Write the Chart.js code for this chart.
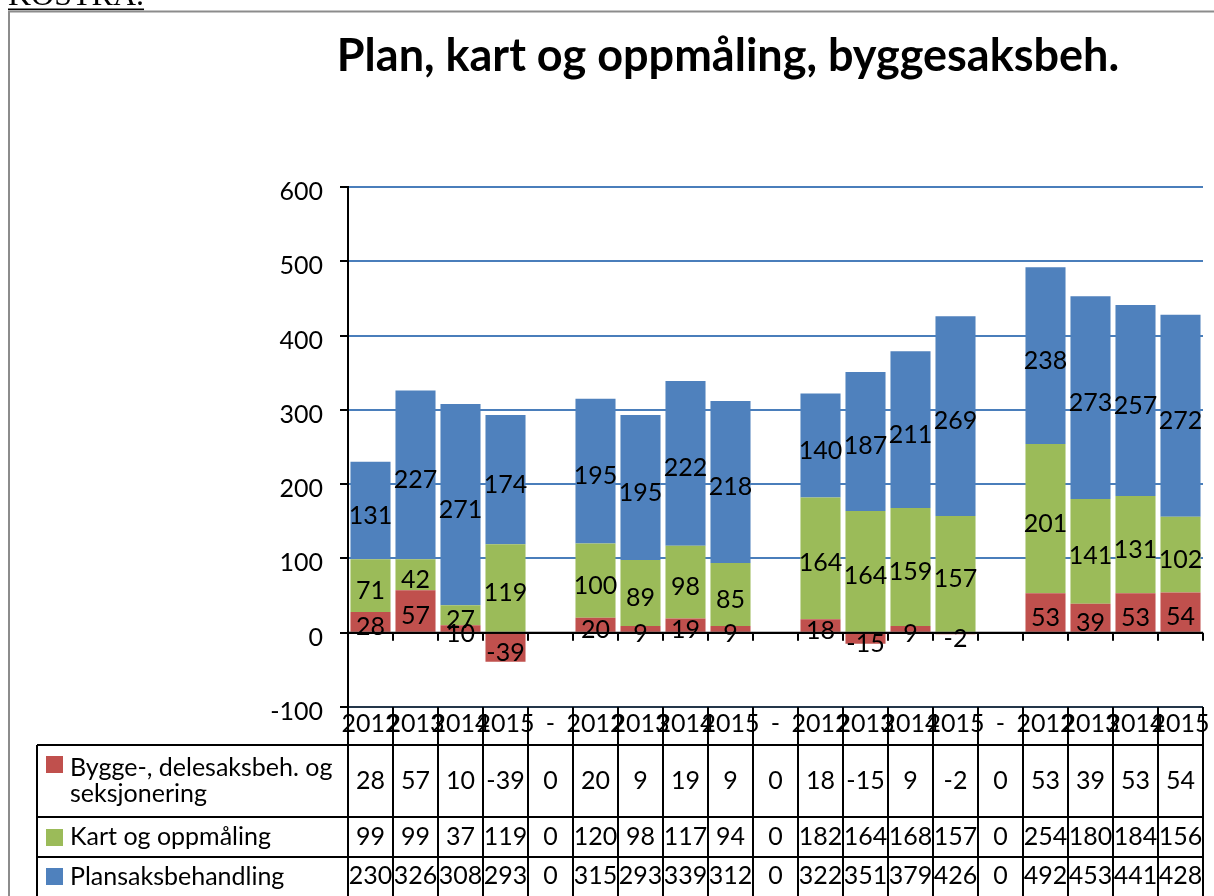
<!DOCTYPE html>
<html lang="no">
<head>
<meta charset="utf-8">
<title>Plan, kart og oppmåling, byggesaksbeh.</title>
<script src="https://cdn.jsdelivr.net/npm/chart.js@4.4.1/dist/chart.umd.min.js"></script>
<style>
  html, body { margin: 0; padding: 0; background: #ffffff; overflow: hidden; }
  #wrap { position: relative; width: 1214px; height: 896px; }
  canvas { display: block; }
</style>
</head>
<body>
<div id="wrap"><canvas id="chart" width="1214" height="896"></canvas></div>
<script>
// Categories along the x axis (four years per group, "-" separates the groups)
const categories = ['2012', '2013', '2014', '2015', '-',
                    '2012', '2013', '2014', '2015', '-',
                    '2012', '2013', '2014', '2015', '-',
                    '2012', '2013', '2014', '2015'];

// Segment values shown inside the stacked bars
const byggeValues = [28, 57, 10, -39, 0, 20, 9, 19, 9, 0, 18, -15, 9, -2, 0, 53, 39, 53, 54];
const kartValues  = [71, 42, 27, 119, 0, 100, 89, 98, 85, 0, 164, 164, 159, 157, 0, 201, 141, 131, 102];
const planValues  = [131, 227, 271, 174, 0, 195, 195, 222, 218, 0, 140, 187, 211, 269, 0, 238, 273, 257, 272];

// Series names (legend column of the data table, split into lines)
const byggeName = ['Bygge-, delesaksbeh. og', 'seksjonering'];
const kartName  = ['Kart og oppmåling'];
const planName  = ['Plansaksbehandling'];

// Value axis
const yMin = -100;
const yMax = 600;
const yStep = 100;

const chartTitle = 'Plan, kart og oppmåling, byggesaksbeh.';
const headingText = 'KOSTRA.';

// The data table lists the level each series reaches (top of its segment)
const byggeLevel = byggeValues.slice();
const kartLevel = kartValues.map((v, i) => v + Math.max(byggeValues[i], 0));
const planLevel = planValues.map((v, i) => v + kartLevel[i]);

const FONT = 'Lato, "Open Sans", "Liberation Sans", sans-serif';
const TEXT_SIZE = 25;
const RED = '#C0504D', GREEN = '#9BBB59', BLUE = '#4F81BD';

// Layout of the data table rows below the plot (pixels)
const TABLE_LEFT = 37;
const ROW_LINES = [745, 817, 857];
const ROW_CENTERS = [781, 837, 876];
const SWATCH_TOPS = [756, 829, 868];
const NAME_BASELINES = [[776, 802], [845], [885]];

const sheetPlugin = {
  id: 'sheet',
  afterDatasetsDraw(chart) {
    const { ctx, chartArea: a, scales: { x, y } } = chart;
    const n = categories.length;
    const w = (a.right - a.left) / n;
    const y0 = y.getPixelForValue(0);
    ctx.save();
    // horizontal axis at zero with tick marks between categories
    ctx.strokeStyle = '#000';
    ctx.lineWidth = 2;
    ctx.beginPath();
    ctx.moveTo(a.left, y0);
    ctx.lineTo(a.right, y0);
    for (let k = 1; k <= n; k++) {
      const px = Math.round(x.getPixelForValue(k - 1) + w / 2);
      ctx.moveTo(px, y0);
      ctx.lineTo(px, y0 + 8);
    }
    ctx.stroke();

    // value labels centred on each segment
    ctx.font = TEXT_SIZE + 'px ' + FONT;
    ctx.fillStyle = '#000';
    ctx.textAlign = 'center';
    ctx.textBaseline = 'middle';
    chart.data.datasets.forEach((ds, di) => {
      const meta = chart.getDatasetMeta(di);
      meta.data.forEach((bar, i) => {
        if (categories[i] === '-') return;
        const p = bar.getProps(['x', 'y', 'base'], true);
        ctx.fillText(String(ds.data[i]), p.x, (p.y + p.base) / 2 + 5);
      });
    });
    ctx.restore();
  },
  afterDraw(chart) {
    const { ctx, chartArea: a, scales: { x } } = chart;
    const n = categories.length;
    const w = (a.right - a.left) / n;
    const H = chart.height;
    ctx.save();

    // outer frame
    ctx.strokeStyle = '#8c8c8c';
    ctx.lineWidth = 2;
    ctx.beginPath();
    ctx.moveTo(9, H);
    ctx.lineTo(9, 11.5);
    ctx.lineTo(chart.width, 11.5);
    ctx.stroke();

    // heading above the frame
    ctx.fillStyle = '#000';
    ctx.font = '32px "Liberation Serif", "DejaVu Serif", serif';
    ctx.textAlign = 'left';
    ctx.textBaseline = 'alphabetic';
    ctx.fillText(headingText, 8, 5);
    const hw = ctx.measureText(headingText).width;
    ctx.fillRect(8, 8.5, hw, 1.6);

    // chart title
    ctx.font = 'bold 45px ' + FONT;
    ctx.textAlign = 'center';
    ctx.fillText(chartTitle, 728, 71);

    // data table grid
    ctx.strokeStyle = '#000';
    ctx.lineWidth = 2;
    ctx.beginPath();
    for (let k = 0; k <= n; k++) {
      const px = k < n ? Math.round(x.getPixelForValue(k) - w / 2) : Math.round(x.getPixelForValue(n - 1) + w / 2);
      ctx.moveTo(px, a.bottom);
      ctx.lineTo(px, H);
    }
    ROW_LINES.forEach(ly => {
      ctx.moveTo(TABLE_LEFT, ly);
      ctx.lineTo(a.right, ly);
    });
    ctx.moveTo(TABLE_LEFT, ROW_LINES[0]);
    ctx.lineTo(TABLE_LEFT, H);
    ctx.stroke();

    // legend column
    const names = [byggeName, kartName, planName];
    const colors = [RED, GREEN, BLUE];
    const levels = [byggeLevel, kartLevel, planLevel];
    ctx.font = TEXT_SIZE + 'px ' + FONT;
    ctx.textAlign = 'left';
    ctx.textBaseline = 'alphabetic';
    names.forEach((lines, r) => {
      ctx.fillStyle = colors[r];
      ctx.fillRect(46, SWATCH_TOPS[r], 17, 17);
      ctx.fillStyle = '#000';
      lines.forEach((t, li) => ctx.fillText(t, 70, NAME_BASELINES[r][li]));
    });

    // table values
    ctx.textAlign = 'center';
    ctx.textBaseline = 'middle';
    levels.forEach((row, r) => {
      row.forEach((v, i) => {
        ctx.fillText(String(v), x.getPixelForValue(i), ROW_CENTERS[r]);
      });
    });
    ctx.restore();
  }
};

const gridColor = (c) => {
  const v = c.tick && c.tick.value;
  if (v === 0) return '#000000';
  if (v === yMin) return '#24364a';
  return '#4A7EBB';
};

new Chart(document.getElementById('chart'), {
  type: 'bar',
  data: {
    labels: categories,
    datasets: [
      { label: byggeName.join(' '), data: byggeValues, backgroundColor: RED, borderWidth: 0 },
      { label: kartName.join(' '), data: kartValues, backgroundColor: GREEN, borderWidth: 0 },
      { label: planName.join(' '), data: planValues, backgroundColor: BLUE, borderWidth: 0 }
    ]
  },
  options: {
    responsive: false,
    devicePixelRatio: 1,
    animation: false,
    categoryPercentage: 1,
    barPercentage: 0.89,
    layout: { padding: { left: 250, right: 11, top: 187, bottom: 151 } },
    plugins: {
      legend: { display: false },
      title: { display: false },
      tooltip: { enabled: false }
    },
    scales: {
      x: {
        stacked: true,
        grid: { display: false, drawTicks: false },
        border: { display: false },
        ticks: {
          autoSkip: false,
          maxRotation: 0,
          minRotation: 0,
          padding: 2,
          color: '#000',
          font: { family: FONT, size: TEXT_SIZE }
        },
        afterFit(scale) { scale.height = 38; }
      },
      y: {
        stacked: true,
        min: yMin,
        max: yMax,
        grid: {
          color: gridColor,
          lineWidth: 2,
          drawTicks: true,
          tickLength: 8,
          tickColor: '#000',
          tickWidth: 2
        },
        border: { display: true, color: '#000', width: 2 },
        ticks: {
          stepSize: yStep,
          padding: 17,
          labelOffset: 5,
          color: '#000',
          font: { family: FONT, size: TEXT_SIZE }
        },
        afterFit(scale) { scale.width = 98; }
      }
    }
  },
  plugins: [sheetPlugin]
});
</script>
</body>
</html>
